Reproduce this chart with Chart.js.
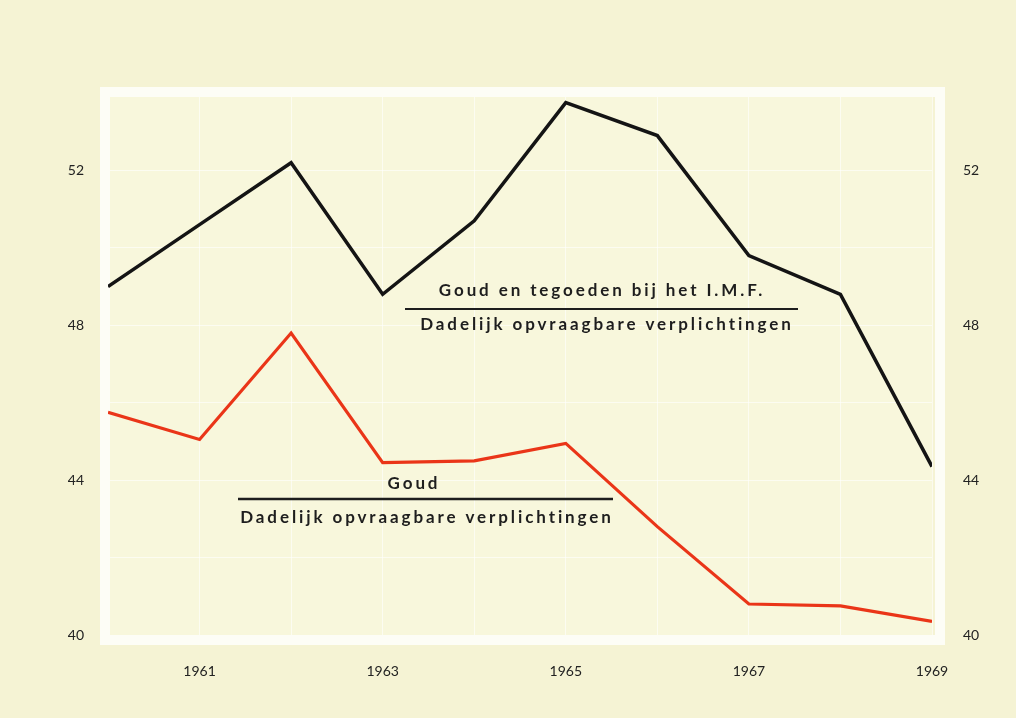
<!DOCTYPE html>
<html>
<head>
<meta charset="utf-8">
<script src="https://cdn.jsdelivr.net/npm/chart.js@4/dist/chart.umd.min.js"></script>
<style>
  html, body { margin: 0; padding: 0; background: #f5f3d4; }
  #wrap { width: 1016px; height: 718px; }
</style>
</head>
<body>
<div id="wrap"><canvas id="grafiek"></canvas></div>
<script>
// jaren en reeksen (percentages)
const jaren = [1960, 1961, 1962, 1963, 1964, 1965, 1966, 1967, 1968, 1969];
const goudEnTegoeden = [49.0, 50.6, 52.2, 48.8, 50.7, 53.75, 52.9, 49.8, 48.8, 44.35];
const goud = [45.75, 45.05, 47.8, 44.45, 44.5, 44.95, 42.8, 40.8, 40.75, 40.35];
const jaarLabels = [1961, 1963, 1965, 1967, 1969];
const waardeLabels = [40, 44, 48, 52];

const fontTekst = "Lato, 'DejaVu Sans', sans-serif";

// witte lijst rond het grafiekveld
const kader = {
  id: "kader",
  beforeDraw(chart) {
    const { ctx, chartArea: a } = chart;
    ctx.save();
    ctx.fillStyle = "#f8f7dc";
    ctx.fillRect(a.left, a.top, a.right - a.left, a.bottom - a.top);
    ctx.restore();
  },
  beforeDatasetsDraw(chart) {
    const { ctx, chartArea: a } = chart;
    ctx.save();
    ctx.strokeStyle = "#fdfdf6";
    ctx.lineWidth = 10;
    ctx.strokeRect(a.left - 3, a.top - 1, (a.right + 8) - (a.left - 3), (a.bottom + 5) - (a.top - 1));
    ctx.restore();
  }
};

// de twee breuken als tekst
const breuken = {
  id: "breuken",
  afterDatasetsDraw(chart) {
    const ctx = chart.ctx;
    ctx.save();
    ctx.fillStyle = "#1e1e1e";
    ctx.strokeStyle = "#1e1e1e";
    ctx.font = "bold 17px " + fontTekst;
    ctx.letterSpacing = "2.9px";
    ctx.textAlign = "center";
    ctx.textBaseline = "middle";

    ctx.fillText("Goud en tegoeden bij het I.M.F.", 602, 291);
    ctx.lineWidth = 2;
    ctx.beginPath(); ctx.moveTo(405, 309); ctx.lineTo(798, 309); ctx.stroke();
    ctx.fillText("Dadelijk opvraagbare verplichtingen", 607, 325);

    ctx.fillText("Goud", 414, 484);
    ctx.lineWidth = 2.5;
    ctx.beginPath(); ctx.moveTo(238, 499); ctx.lineTo(613, 499); ctx.stroke();
    ctx.fillText("Dadelijk opvraagbare verplichtingen", 427, 518);
    ctx.restore();
  }
};

const data = {
  labels: jaren,
  datasets: [
    {
      label: "Goud en tegoeden bij het I.M.F. / Dadelijk opvraagbare verplichtingen",
      data: jaren.map((j, i) => ({ x: j, y: goudEnTegoeden[i] })),
      borderColor: "#141414",
      borderWidth: 3.5,
      pointRadius: 0,
      tension: 0,
      borderJoinStyle: "miter"
    },
    {
      label: "Goud / Dadelijk opvraagbare verplichtingen",
      data: jaren.map((j, i) => ({ x: j, y: goud[i] })),
      borderColor: "#ea3518",
      borderWidth: 3.2,
      pointRadius: 0,
      tension: 0,
      borderJoinStyle: "miter"
    }
  ]
};

const tickFont = { family: fontTekst, size: 14 };

new Chart(document.getElementById("grafiek"), {
  type: "line",
  data: data,
  plugins: [kader, breuken],
  options: {
    responsive: true,
    maintainAspectRatio: false,
    animation: false,
    layout: { padding: { top: 93, left: 0, right: 0, bottom: 0 } },
    plugins: {
      legend: { display: false },
      tooltip: { enabled: false }
    },
    scales: {
      x: {
        type: "linear",
        min: 1960,
        max: 1969,
        grid: { color: "rgba(255,255,255,0.6)", lineWidth: 1, drawTicks: false },
        border: { display: false },
        ticks: {
          stepSize: 1,
          padding: 28,
          color: "#222",
          font: tickFont,
          callback: v => jaarLabels.includes(v) ? String(v) : ""
        },
        afterFit: s => { s.height = 83; }
      },
      y: {
        position: "left",
        min: 40,
        max: 54,
        grid: { color: "rgba(255,255,255,0.6)", lineWidth: 1, drawTicks: false },
        border: { display: false },
        ticks: {
          stepSize: 2,
          padding: 24,
          color: "#222",
          font: tickFont,
          callback: v => waardeLabels.includes(v) ? String(v) : ""
        },
        afterFit: s => { s.width = 108; }
      },
      y2: {
        position: "right",
        min: 40,
        max: 54,
        grid: { display: false },
        border: { display: false },
        ticks: {
          stepSize: 2,
          padding: 23,
          color: "#222",
          font: tickFont,
          callback: v => waardeLabels.includes(v) ? String(v) : ""
        },
        afterFit: s => { s.width = 84; }
      }
    }
  }
});
</script>
</body>
</html>
